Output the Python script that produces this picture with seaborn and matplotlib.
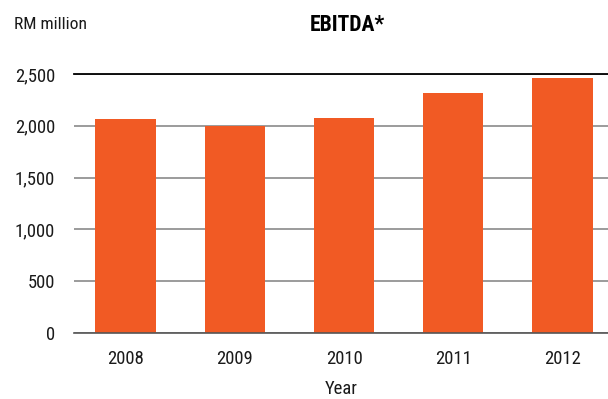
import matplotlib
matplotlib.use("Agg")
import matplotlib.pyplot as plt
from matplotlib import font_manager
import seaborn as sns
import pandas as pd

years = ["2008", "2009", "2010", "2011", "2012"]
ebitda = [2065, 1997, 2075, 2317, 2461]
y_ticks = [0, 500, 1000, 1500, 2000, 2500]
y_tick_labels = ["0", "500", "1,000", "1,500", "2,000", "2,500"]

title = "EBITDA*"
unit_label = "RM million"
x_label = "Year"

bar_color = "#F15A24"

sns.set_theme(style="white")

# pick a condensed face if one is installed
names = {f.name for f in font_manager.fontManager.ttflist}
stretches = {(f.name, f.stretch) for f in font_manager.fontManager.ttflist}
chosen = None
stretch = "normal"
for cand in ["Liberation Sans Narrow", "Roboto Condensed", "Arial Narrow",
             "Open Sans Condensed", "Noto Sans Condensed"]:
    if cand in names:
        chosen = cand
        break
if chosen is None:
    for nm, st in stretches:
        if nm in ("Noto Sans", "Open Sans", "Roboto", "Inter") and st in (
                "condensed", "semi-condensed", 75, 87.5, 62.5, "extra-condensed"):
            chosen = nm
            stretch = st
            break
condensed = chosen is not None
if chosen is None:
    chosen = "Liberation Sans"
fams = [chosen, "Liberation Sans", "DejaVu Sans"]
plt.rcParams["font.family"] = fams
plt.rcParams["font.stretch"] = stretch

fs = 13.4 if condensed else 11.5
tfs = 15.6 if condensed else 13.5

df = pd.DataFrame({"Year": years, "EBITDA": ebitda})

fig = plt.figure(figsize=(6.08, 3.99), dpi=100)
ax = fig.add_axes([74 / 608, 1 - 333 / 399, 1 - 74 / 608, (333 - 74) / 399])

sns.barplot(data=df, x="Year", y="EBITDA", color=bar_color, saturation=1,
            width=0.55, ax=ax, zorder=3, linewidth=0, edgecolor="none")

ax.set_ylim(0, 2500)
ax.set_xlim(-0.471, 4.416)
ax.set_yticks(y_ticks)
ax.set_yticklabels(y_tick_labels)

ax.yaxis.grid(True, color="#8a8a8a", linewidth=1.2, zorder=0)
ax.set_axisbelow(True)
for s in ["left", "right"]:
    ax.spines[s].set_visible(False)
ax.spines["top"].set_visible(True)
ax.spines["top"].set_color("black")
ax.spines["top"].set_linewidth(1.3)
ax.spines["bottom"].set_color("#555555")
ax.spines["bottom"].set_linewidth(1.2)
ax.spines["bottom"].set_zorder(4)

ax.tick_params(axis="y", length=0, pad=13.5, labelsize=fs, labelcolor="#1a1a1a")
ax.tick_params(axis="x", length=0, pad=12, labelsize=fs, labelcolor="#1a1a1a")

ax.set_xlabel(x_label, fontsize=fs, color="#1a1a1a", labelpad=9)
ax.set_ylabel("")

fig.text(347 / 608, 1 - 24.7 / 399, title, ha="center", va="center",
         fontsize=tfs, fontweight="bold", color="black")
fig.text(14 / 608, 1 - 24.5 / 399, unit_label, ha="left", va="center",
         fontsize=fs - 0.8, color="#1a1a1a")

fig.savefig("out.png", dpi=100)
